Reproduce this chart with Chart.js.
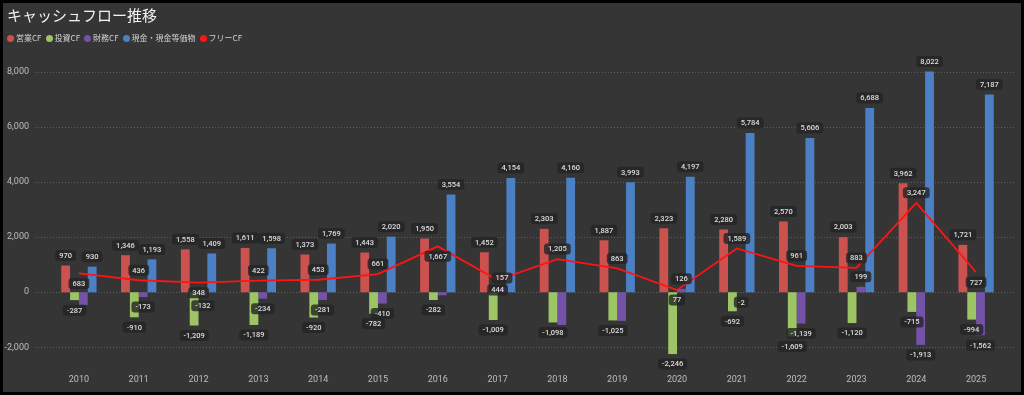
<!DOCTYPE html>
<html>
<head>
<meta charset="utf-8">
<script src="https://cdn.jsdelivr.net/npm/chart.js@4"></script>
<style>
  html, body { margin: 0; padding: 0; background: #000; }
  #wrap { position: relative; width: 1024px; height: 395px; overflow: hidden; }
  #chart { position: absolute; left: 0; top: 0; }
  .title {
    position: absolute; left: 7px; top: 5px;
    font: 15px "Noto Sans CJK JP", sans-serif; color: #f2f2f2; line-height: 20px;
  }
  .legend {
    position: absolute; left: 7px; top: 32px; display: flex; align-items: center;
    font: 8px "Noto Sans CJK JP", sans-serif; color: #d2d2d2; line-height: 12px;
  }
  .legend span.item { display: flex; align-items: center; margin-right: 4px; }
  .legend i { display: inline-block; width: 7px; height: 7px; border-radius: 50%; margin-right: 2px; }
</style>
</head>
<body>
<div id="wrap">
  <canvas id="chart" width="1024" height="395"></canvas>
  <div class="title">キャッシュフロー推移</div>
  <div class="legend" id="legend"></div>
</div>
<script>
// ==========================
// Data
// ==========================
const years = ['2010','2011','2012','2013','2014','2015','2016','2017','2018','2019','2020','2021','2022','2023','2024','2025'];
const operatingCF = [970, 1346, 1558, 1611, 1373, 1443, 1950, 1452, 2303, 1887, 2323, 2280, 2570, 2003, 3962, 1721];
const investingCF = [-287, -910, -1209, -1189, -920, -782, -282, -1009, -1098, -1025, -2246, -692, -1609, -1120, -715, -994];
const financingCF = [-460, -173, -132, -234, -281, -410, -110, 157, -1190, -1040, 126, -2, -1139, 199, -1913, -1562];
const cashBalance = [930, 1193, 1409, 1598, 1769, 2020, 3554, 4154, 4160, 3993, 4197, 5784, 5606, 6688, 8022, 7187];
const freeCF = [683, 436, 348, 422, 453, 661, 1667, 444, 1205, 863, 77, 1589, 961, 883, 3247, 727];
const yTicks = [-2000, 0, 2000, 4000, 6000, 8000];

const seriesNames = ['営業CF', '投資CF', '財務CF', '現金・現金等価物', 'フリーCF'];
const seriesColors = ['#cc5250', '#9dc465', '#7452a8', '#4b80c4', '#ff1414'];

// where each free CF label sits relative to its point
const freeLabelSide = ['below','above','below','above','above','above','below','below','above','above','below','above','above','above','above','below'];

// ==========================
// Legend (html)
// ==========================
const legendEl = document.getElementById('legend');
seriesNames.forEach((name, i) => {
    const item = document.createElement('span');
    item.className = 'item';
    item.innerHTML = `<i style="background:${seriesColors[i]}"></i>${name}`;
    legendEl.appendChild(item);
});

// ==========================
// Plugins
// ==========================
const backgroundPlugin = {
    id: 'panelBackground',
    beforeDraw(chart) {
        const ctx = chart.ctx;
        ctx.save();
        ctx.fillStyle = '#000';
        ctx.fillRect(0, 0, chart.width, chart.height);
        ctx.fillStyle = '#353535';
        ctx.fillRect(3, 3, chart.width - 6, chart.height - 6);
        ctx.restore();
    }
};

const gridPlugin = {
    id: 'dottedGrid',
    beforeDatasetsDraw(chart) {
        const ctx = chart.ctx;
        const yScale = chart.scales.y;
        ctx.save();
        ctx.strokeStyle = '#5e5e5e';
        ctx.lineWidth = 1;
        ctx.setLineDash([1, 2]);
        yScale.ticks.forEach(t => {
            const y = Math.round(yScale.getPixelForValue(t.value)) + 0.5;
            ctx.beginPath();
            ctx.moveTo(35, y);
            ctx.lineTo(1015, y);
            ctx.stroke();
        });
        ctx.restore();
    }
};

const labelPlugin = {
    id: 'valueLabels',
    afterDatasetsDraw(chart) {
        const ctx = chart.ctx;
        const placed = [];
        ctx.save();
        ctx.font = '500 7.5px Roboto, "Noto Sans", sans-serif';
        ctx.textAlign = 'center';
        ctx.textBaseline = 'middle';
        [4, 0, 3, 1, 2].forEach(di => {
            const meta = chart.getDatasetMeta(di);
            const values = chart.data.datasets[di].data;
            meta.data.forEach((el, i) => {
                const v = values[i];
                let cy;
                if (di === 4) cy = freeLabelSide[i] === 'below' ? el.y + 10 : el.y - 10;
                else cy = v >= 0 ? el.y - 10 : el.y + 10;
                const text = v.toLocaleString('en-US');
                const w = ctx.measureText(text).width + 8, h = 11;
                const box = { l: el.x - w / 2, r: el.x + w / 2, t: cy - h / 2, b: cy + h / 2 };
                const clash = placed.some(p =>
                    Math.min(p.r, box.r) - Math.max(p.l, box.l) > 3 &&
                    Math.min(p.b, box.b) - Math.max(p.t, box.t) > 3);
                if (clash) return;
                placed.push(box);
                ctx.fillStyle = 'rgba(36,36,36,0.8)';
                ctx.beginPath();
                ctx.roundRect(box.l, box.t, w, h, 3);
                ctx.fill();
                ctx.fillStyle = '#dedede';
                ctx.fillText(text, el.x, cy + 0.5);
            });
        });
        ctx.restore();
    }
};

// ==========================
// Chart
// ==========================
const barSet = (label, data, color) => ({
    type: 'bar', label, data, backgroundColor: color, borderWidth: 0,
    categoryPercentage: 0.59, barPercentage: 1.0, order: 1
});

new Chart(document.getElementById('chart').getContext('2d'), {
    type: 'bar',
    data: {
        labels: years,
        datasets: [
            barSet(seriesNames[0], operatingCF, seriesColors[0]),
            barSet(seriesNames[1], investingCF, seriesColors[1]),
            barSet(seriesNames[2], financingCF, seriesColors[2]),
            barSet(seriesNames[3], cashBalance, seriesColors[3]),
            {
                type: 'line', label: seriesNames[4], data: freeCF,
                borderColor: seriesColors[4], borderWidth: 1.8, pointRadius: 0,
                tension: 0, fill: false, order: 0
            }
        ]
    },
    options: {
        responsive: false,
        animation: false,
        layout: { padding: { left: 0, right: 18, top: 60, bottom: 0 } },
        plugins: { legend: { display: false }, tooltip: { enabled: false } },
        scales: {
            x: {
                grid: { display: false, drawTicks: false },
                border: { display: false },
                ticks: { color: '#bdbdbd', font: { family: 'Roboto', size: 9 }, padding: 9, maxRotation: 0 },
                afterFit: s => { s.height = 30; }
            },
            y: {
                min: -2643, max: 8436,
                grid: { display: false, drawTicks: false },
                border: { display: false },
                ticks: {
                    color: '#bdbdbd', padding: 20,
                    font: { family: 'Roboto', size: 9 },
                    callback: v => v.toLocaleString('en-US')
                },
                afterBuildTicks: s => { s.ticks = yTicks.map(v => ({ value: v })); },
                afterFit: s => { s.width = 49; }
            }
        }
    },
    plugins: [backgroundPlugin, gridPlugin, labelPlugin]
});
</script>
</body>
</html>
